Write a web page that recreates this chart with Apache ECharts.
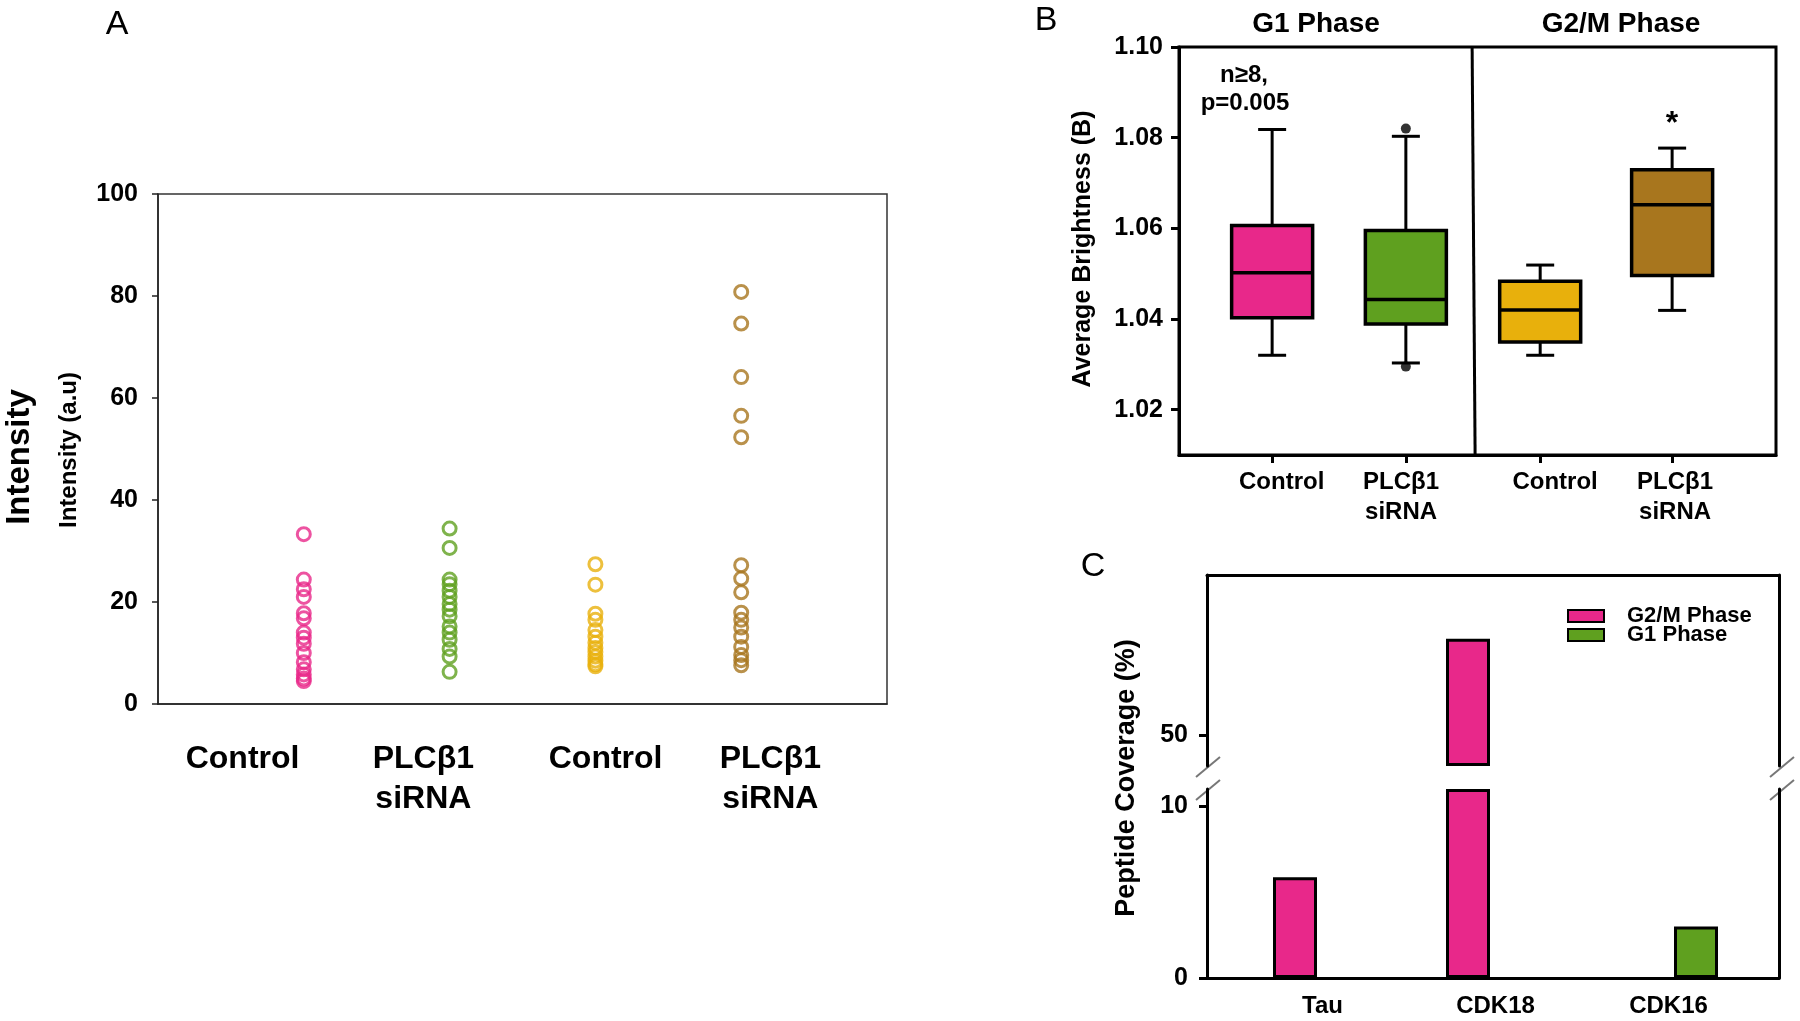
<!DOCTYPE html>
<html><head><meta charset="utf-8">
<script src="https://cdn.jsdelivr.net/npm/echarts@6/dist/echarts.min.js"></script>
<style>html,body{margin:0;padding:0;background:#fff}#c{width:1800px;height:1021px}</style>
</head><body><div id="c"></div>
<script>
// ---------- Panel A data ----------
const aCategories = ['Control', 'PLCβ1\nsiRNA', 'Control', 'PLCβ1\nsiRNA'];
const aYTicks = [0, 20, 40, 60, 80, 100];
const aControlG1 = [33.3, 24.4, 22.5, 21.0, 17.8, 16.8, 14.0, 13.0, 11.8, 10.0, 8.2, 6.8, 5.8, 5.0, 4.5];
const aSiRNAG1 = [34.4, 30.6, 24.4, 23.5, 22.2, 21.0, 19.6, 18.5, 17.2, 15.2, 14.0, 12.6, 10.8, 9.3, 6.3];
const aControlG2M = [27.4, 23.4, 17.7, 16.5, 14.5, 13.2, 12.0, 11.0, 10.2, 9.3, 8.5, 7.8, 7.4];
const aSiRNAG2M = [80.8, 74.6, 64.1, 56.5, 52.3, 27.2, 24.6, 21.9, 17.9, 16.5, 15.0, 13.2, 11.2, 9.6, 8.6, 7.6];

// ---------- Panel B data ----------
const bPhases = ['G1 Phase', 'G2/M Phase'];
const bCategories = ['Control', 'PLCβ1\nsiRNA', 'Control', 'PLCβ1\nsiRNA'];
const bYTicks = [1.02, 1.04, 1.06, 1.08, 1.10];
const bMin = [1.0320, 1.0303, 1.0320, 1.0419];
const bQ1 = [1.0403, 1.0389, 1.0349, 1.0496];
const bMedian = [1.0502, 1.0443, 1.0420, 1.0652];
const bQ3 = [1.0606, 1.0595, 1.0483, 1.0729];
const bMax = [1.0818, 1.0803, 1.0519, 1.0777];
const bOutlierGroup = [1, 1];
const bOutlierValue = [1.0820, 1.0295];

// ---------- Panel C data ----------
const cCategories = ['Tau', 'CDK18', 'CDK16'];
const cSeriesNames = ['G2/M Phase', 'G1 Phase'];
const cG2M = [5.87, 55.6, null];
const cG1 = [null, null, 3.0];
const cLowerTicks = [0, 10];
const cUpperTicks = [50];

// ---------- layout / style ----------
const FONT = "'Liberation Sans', Arial, Helvetica, sans-serif";
const colors = ['#E8288A', '#5FA01F', '#E8B00C', '#A8761E'];
const aLabelPos = [0.58, 1.82, 3.07, 4.2];
const bPos = [1.56, 3.80, 6.05, 8.26];
const bLabelPos = [1.72, 3.72, 6.30, 8.31];
const cLowerMax = 11, cUpperMin = 48.2, cUpperMax = 59.3;

function nearestIdx(arr, v) {
  let best = 0;
  arr.forEach((p, i) => { if (Math.abs(p - v) < Math.abs(arr[best] - v)) best = i; });
  return best;
}

const chart = echarts.init(document.getElementById('c'), null, {renderer: 'canvas'});
const black3 = {color: '#000', width: 3};

const aGroups = [aControlG1, aSiRNAG1, aControlG2M, aSiRNAG2M];
const aSeries = aGroups.map((arr, i) => ({
  type: 'scatter', name: 'A' + i, xAxisIndex: 0, yAxisIndex: 0,
  data: arr.map(v => [i + 1, v]),
  symbol: 'circle', symbolSize: 13, silent: true,
  itemStyle: {color: 'rgba(0,0,0,0)', borderColor: colors[i], borderWidth: 3}
}));

function renderBox(params, api) {
  const x = api.value(0);
  const p = k => api.coord([x, api.value(k)]);
  const pMin = p(1), pQ1 = p(2), pMed = p(3), pQ3 = p(4), pMax = p(5);
  const cx = pMin[0];
  const hw = 40.5, cw = 14;
  const col = colors[params.dataIndex];
  const ls = {stroke: '#000', lineWidth: 3};
  return {type: 'group', children: [
    {type: 'line', shape: {x1: cx, y1: pMax[1], x2: cx, y2: pQ3[1]}, style: ls},
    {type: 'line', shape: {x1: cx, y1: pQ1[1], x2: cx, y2: pMin[1]}, style: ls},
    {type: 'line', shape: {x1: cx - cw, y1: pMax[1], x2: cx + cw, y2: pMax[1]}, style: ls},
    {type: 'line', shape: {x1: cx - cw, y1: pMin[1], x2: cx + cw, y2: pMin[1]}, style: ls},
    {type: 'rect', shape: {x: cx - hw, y: pQ3[1], width: 2 * hw, height: pQ1[1] - pQ3[1]},
      style: {fill: col, stroke: '#000', lineWidth: 3.5}},
    {type: 'line', shape: {x1: cx - hw, y1: pMed[1], x2: cx + hw, y2: pMed[1]},
      style: {stroke: '#000', lineWidth: 3.5}}
  ]};
}

const bSeries = [
  {
    type: 'custom', name: 'Bbox', xAxisIndex: 1, yAxisIndex: 1, silent: true,
    renderItem: renderBox,
    data: bPos.map((p, i) => [p, bMin[i], bQ1[i], bMedian[i], bQ3[i], bMax[i]])
  },
  {
    type: 'scatter', name: 'Bout', xAxisIndex: 1, yAxisIndex: 1, silent: true,
    symbolSize: 10, itemStyle: {color: '#000'},
    data: bOutlierValue.map((v, i) => [bPos[bOutlierGroup[i]], v]),
    markLine: {
      silent: true, symbol: ['none', 'none'], label: {show: false},
      lineStyle: {color: '#000', width: 3, type: 'solid'},
      data: [[{coord: [4.91, 1.10]}, {coord: [4.96, 1.01]}]]
    }
  }
];

const cData = [cG2M, cG1];
const cSeries = [];
cData.forEach((arr, i) => {
  cSeries.push({
    type: 'bar', name: cSeriesNames[i], xAxisIndex: 4, yAxisIndex: 6,
    data: arr.map(v => (v != null && v > cUpperMin) ? v : null),
    barWidth: 44, barGap: '25%', clip: true, silent: true,
    itemStyle: {color: colors[i], borderColor: '#000', borderWidth: 3}
  });
  cSeries.push({
    type: 'bar', name: cSeriesNames[i], xAxisIndex: 5, yAxisIndex: 7,
    data: arr.map(v => v == null ? null : Math.min(v, cLowerMax)),
    barWidth: 44, barGap: '25%', clip: false, silent: true,
    itemStyle: {color: colors[i], borderColor: '#000', borderWidth: 3}
  });
});

function frameAxisX(grid, pos) {
  return {type: 'value', gridIndex: grid, min: 0, max: 1, position: pos,
    axisLine: {show: true, onZero: false, lineStyle: black3},
    axisTick: {show: false}, axisLabel: {show: false}, splitLine: {show: false}};
}
function frameAxisY(grid, min, max, ticks, pos) {
  const withTicks = ticks && ticks.length;
  return {type: 'value', gridIndex: grid, min: min, max: max, position: pos,
    axisLine: {show: true, onZero: false, lineStyle: black3},
    axisTick: withTicks ? {show: true, inside: false, length: 8, lineStyle: {color: '#000', width: 3}, customValues: ticks} : {show: false},
    axisLabel: withTicks ? {show: true, customValues: ticks, margin: 19, fontFamily: FONT, fontWeight: 'bold', fontSize: 25, color: '#000'} : {show: false},
    splitLine: {show: false}};
}

const breakMark = (cx, cy) => ({
  type: 'line', silent: true,
  shape: {x1: cx - 12, y1: cy + 10, x2: cx + 12, y2: cy - 10},
  style: {stroke: '#777', lineWidth: 2}
});

function txt(x, y, text, size, weight, rot) {
  return {type: 'text', x: x, y: y, rotation: rot || 0, silent: true,
    style: {text: text, fontFamily: FONT, fontSize: size, fontWeight: weight || 'bold',
      fill: '#000', align: 'center', verticalAlign: 'middle'}};
}

function legendFor(name, top) {
  return {
    data: [name], orient: 'vertical', left: 1567, top: top,
    itemWidth: 36, itemHeight: 12, itemGap: 0, icon: 'rect', selectedMode: false, padding: 0,
    textStyle: {fontFamily: FONT, fontWeight: 'bold', fontSize: 22, color: '#000', padding: [0, 0, 0, 18]}
  };
}

const option = {
  animation: false,
  backgroundColor: '#fff',
  grid: [
    {left: 158, top: 194, width: 729, height: 510, show: true, borderColor: '#333', borderWidth: 1.5},
    {left: 1179, top: 47, width: 597, height: 408, show: true, borderColor: '#000', borderWidth: 3},
    {left: 1207, top: 575, width: 572, height: 191},
    {left: 1207, top: 789, width: 572, height: 189},
    {left: 1236, top: 575, width: 519, height: 191},
    {left: 1236, top: 789, width: 519, height: 189}
  ],
  xAxis: [
    {type: 'value', gridIndex: 0, min: 0, max: 5,
      axisLine: {show: true, onZero: false, lineStyle: {color: '#222', width: 1.5}},
      axisTick: {show: false}, splitLine: {show: false},
      axisLabel: {show: true, customValues: aLabelPos, margin: 35, lineHeight: 40,
        fontFamily: FONT, fontWeight: 'bold', fontSize: 32, color: '#000',
        formatter: v => aCategories[nearestIdx(aLabelPos, v)]}},
    {type: 'value', gridIndex: 1, min: 0, max: 10,
      axisLine: {show: true, onZero: false, lineStyle: black3},
      axisTick: {show: true, inside: false, length: 8, customValues: bPos, lineStyle: {color: '#000', width: 3}},
      splitLine: {show: false},
      axisLabel: {show: true, customValues: bLabelPos, margin: 12, lineHeight: 30,
        fontFamily: FONT, fontWeight: 'bold', fontSize: 24, color: '#000',
        formatter: v => bCategories[nearestIdx(bLabelPos, v)]}},
    frameAxisX(2, 'top'),
    frameAxisX(3, 'bottom'),
    {type: 'category', gridIndex: 4, data: cCategories, show: false},
    {type: 'category', gridIndex: 5, data: cCategories,
      axisLine: {show: false}, axisTick: {show: false},
      axisLabel: {margin: 16, fontFamily: FONT, fontWeight: 'bold', fontSize: 24, color: '#000'}}
  ],
  yAxis: [
    {type: 'value', gridIndex: 0, min: 0, max: 100, interval: 20,
      axisLine: {show: true, onZero: false, lineStyle: {color: '#222', width: 1.5}},
      axisTick: {show: true, inside: false, length: 6, lineStyle: {color: '#222', width: 1.5}},
      splitLine: {show: false},
      axisLabel: {margin: 20, fontFamily: FONT, fontWeight: 'bold', fontSize: 25, color: '#000',
        formatter: v => aYTicks.includes(v) ? String(v) : ''}},
    {type: 'value', gridIndex: 1, min: 1.01, max: 1.10,
      axisLine: {show: true, onZero: false, lineStyle: black3},
      axisTick: {show: true, inside: false, length: 8, customValues: bYTicks, lineStyle: {color: '#000', width: 3}},
      splitLine: {show: false},
      axisLabel: {customValues: bYTicks, margin: 16, fontFamily: FONT, fontWeight: 'bold', fontSize: 25, color: '#000',
        formatter: v => v.toFixed(2)}},
    frameAxisY(2, cUpperMin, cUpperMax, cUpperTicks, 'left'),
    frameAxisY(2, cUpperMin, cUpperMax, null, 'right'),
    frameAxisY(3, 0, cLowerMax, cLowerTicks, 'left'),
    frameAxisY(3, 0, cLowerMax, null, 'right'),
    {type: 'value', gridIndex: 4, min: cUpperMin, max: cUpperMax, startValue: cUpperMin, show: false},
    {type: 'value', gridIndex: 5, min: 0, max: cLowerMax, show: false}
  ],
  legend: [legendFor(cSeriesNames[0], 605), legendFor(cSeriesNames[1], 624)],
  series: [...aSeries, ...bSeries, ...cSeries],
  graphic: [
    txt(117, 25, 'A', 34, 'normal'),
    txt(1046, 21, 'B', 34, 'normal'),
    txt(1093, 567, 'C', 34, 'normal'),
    txt(20, 457, 'Intensity', 33, 'bold', Math.PI / 2),
    txt(69, 450, 'Intensity (a.u)', 24, 'bold', Math.PI / 2),
    txt(1316, 24, bPhases[0], 28, 'bold'),
    txt(1621, 24, bPhases[1], 28, 'bold'),
    txt(1083, 249, 'Average Brightness (B)', 25, 'bold', Math.PI / 2),
    txt(1244, 75, 'n≥8,', 24, 'bold'),
    txt(1245, 103, 'p=0.005', 24, 'bold'),
    txt(1672, 124, '*', 32, 'bold'),
    txt(1127, 778, 'Peptide Coverage (%)', 27, 'bold', Math.PI / 2),
    breakMark(1208, 767),
    breakMark(1208, 790),
    breakMark(1782, 767),
    breakMark(1782, 790)
  ]
};
chart.setOption(option);
</script></body></html>
